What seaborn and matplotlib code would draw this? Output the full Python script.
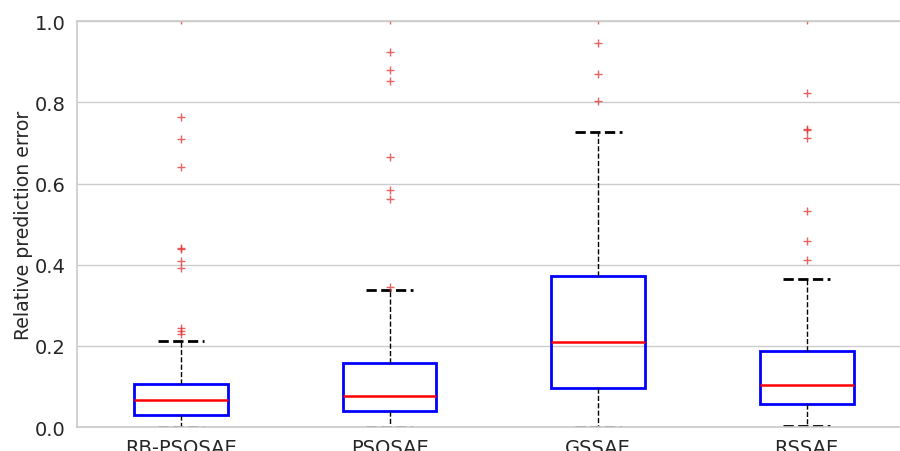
import matplotlib
matplotlib.use("Agg")
import matplotlib.pyplot as plt
import seaborn as sns
import pandas as pd

methods = ["RB-PSOSAE", "PSOSAE", "GSSAE", "RSSAE"]

rb_psosae = [
    0.001, 0.004, 0.007, 0.010, 0.012, 0.014, 0.017, 0.019, 0.021, 0.023, 0.025, 0.027, 0.028,
    0.030,
    0.032, 0.035, 0.037, 0.040, 0.043, 0.046, 0.049, 0.052, 0.055, 0.058, 0.061, 0.064,
    0.067,
    0.070, 0.073, 0.076, 0.079, 0.082, 0.085, 0.088, 0.091, 0.094, 0.097, 0.100, 0.103,
    0.106,
    0.148, 0.212,
    0.229, 0.236, 0.244, 0.392, 0.409, 0.438, 0.441, 0.640, 0.709, 0.763, 1.004,
]

psosae = [
    0.001, 0.004, 0.008, 0.011, 0.014, 0.017, 0.020, 0.023, 0.026, 0.029, 0.032, 0.034, 0.037,
    0.039,
    0.042, 0.045, 0.048, 0.051, 0.054, 0.057, 0.060, 0.063, 0.066, 0.069, 0.071, 0.074,
    0.076,
    0.082, 0.088, 0.094, 0.100, 0.107, 0.114, 0.121, 0.128, 0.135, 0.142, 0.148, 0.154,
    0.159,
    0.178, 0.205, 0.241, 0.286, 0.337,
    0.344, 0.562, 0.585, 0.665, 0.852, 0.880, 0.925, 1.004,
]

gssae = [
    0.001, 0.008, 0.016, 0.024, 0.032, 0.040, 0.048, 0.056, 0.063, 0.070, 0.077, 0.084, 0.090,
    0.096,
    0.105, 0.114, 0.123, 0.132, 0.141, 0.150, 0.159, 0.168, 0.177, 0.186, 0.195, 0.202,
    0.209,
    0.221, 0.234, 0.247, 0.260, 0.273, 0.286, 0.299, 0.312, 0.325, 0.338, 0.351, 0.362,
    0.372,
    0.398, 0.425, 0.452, 0.489, 0.530, 0.574, 0.621, 0.672, 0.726,
    0.803, 0.869, 0.946, 1.004,
]

rssae = [
    0.003, 0.008, 0.013, 0.018, 0.022, 0.026, 0.030, 0.034, 0.038, 0.042, 0.046, 0.050, 0.054,
    0.057,
    0.061, 0.065, 0.069, 0.073, 0.077, 0.081, 0.085, 0.089, 0.093, 0.096, 0.099, 0.101,
    0.103,
    0.109, 0.115, 0.121, 0.127, 0.133, 0.139, 0.145, 0.151, 0.157, 0.164, 0.171, 0.179,
    0.187,
    0.214, 0.247, 0.283, 0.322, 0.364,
    0.411, 0.459, 0.532, 0.711, 0.731, 0.735, 0.822, 1.004,
]

yticks = [0.0, 0.2, 0.4, 0.6, 0.8, 1.0]

series = [rb_psosae, psosae, gssae, rssae]
df = pd.DataFrame({
    "method": [m for m, vals in zip(methods, series) for _ in vals],
    "error": [v for vals in series for v in vals],
})

sns.set_theme(style="whitegrid")
plt.rcParams["font.family"] = ["DejaVu Sans"]

fig = plt.figure(figsize=(9.0, 4.52), dpi=100)
ax = fig.add_axes([0.0852, 0.053, 0.927, 0.898])

sns.boxplot(
    data=df, x="method", y="error", order=methods, ax=ax,
    width=0.45,
    boxprops=dict(facecolor="none", edgecolor="blue", linewidth=2),
    medianprops=dict(color="red", linewidth=1.8),
    whiskerprops=dict(color="black", linestyle="--", linewidth=1),
    capprops=dict(color="black", linestyle="--", linewidth=2),
    flierprops=dict(marker="+", markeredgecolor="#e03030", markerfacecolor="none",
                    markersize=6, markeredgewidth=1, alpha=0.75),
)

ax.set_ylim(0, 1.0)
ax.set_yticks(yticks)
ax.set_yticklabels([f"{t:.1f}" for t in yticks])
ax.tick_params(axis="both", labelsize=14, length=0, pad=8)
ax.set_xlabel("")
ax.set_ylabel("Relative prediction error", fontsize=13.6, labelpad=1.5)
ax.xaxis.grid(False)

fig.savefig("out.png", dpi=100)
